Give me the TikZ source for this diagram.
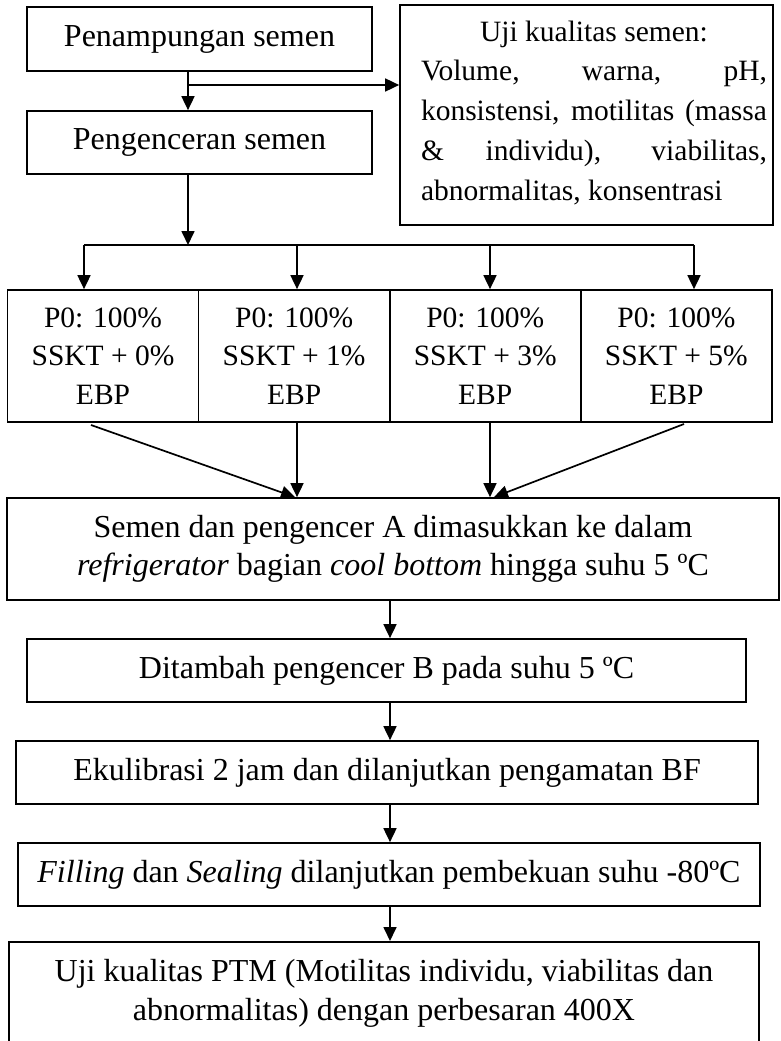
\documentclass[tikz,border=0pt]{standalone}
\usepackage{fontspec}
\setmainfont{Liberation Serif}
\usetikzlibrary{arrows.meta}
\begin{document}
\begin{tikzpicture}[x=1pt,y=-1pt,
  box/.style={draw, line width=1.7pt, inner sep=0pt, align=center, font=\fontsize{32}{38.5}\selectfont},
  pbox/.style={box, minimum width=191.1pt, minimum height=132pt, font=\fontsize{29.5}{38.5}\selectfont},
  arr/.style={line width=1.7pt, -{Triangle[length=14pt,width=13pt]}},
  ln/.style={line width=1.7pt}]
\useasboundingbox (0,0) rectangle (780,1041);
\clip (0,0) rectangle (780,1041);
% top boxes
\node[box, minimum width=345pt, minimum height=64pt] (A) at (199.5,39) {Penampungan semen};
\node[box, minimum width=345pt, minimum height=63pt] (B) at (199.5,142.5) {Pengenceran semen};
\node[box, minimum width=373pt, minimum height=220pt] (C) at (586.5,115) {};
\node[inner sep=0pt, align=center, font=\fontsize{29.5}{39.7}\selectfont] (Ct) at (594,112.7) {%
\hbox to 346pt{\hfil Uji kualitas semen:\hfil}\\
\hbox to 346pt{Volume, warna, pH,}\\
\hbox to 346pt{konsistensi, motilitas (massa}\\
\hbox to 346pt{\& individu), viabilitas,}\\
\hbox to 346pt{abnormalitas, konsentrasi\hfil}};
% treatment boxes
\node[pbox] (P1) at (103.05,356) {P0: 100\%\\SSKT + 0\%\\EBP};
\node[pbox] (P2) at (294.15,356) {P0: 100\%\\SSKT + 1\%\\EBP};
\node[pbox] (P3) at (485.25,356) {P0: 100\%\\SSKT + 3\%\\EBP};
\node[pbox] (P4) at (676.35,356) {P0: 100\%\\SSKT + 5\%\\EBP};
% lower boxes
\node[box, minimum width=772pt, minimum height=102pt] (D) at (393,549) {Semen dan pengencer A dimasukkan ke dalam\\\textit{refrigerator} bagian \textit{cool bottom} hingga suhu 5 ºC};
\node[box, minimum width=719pt, minimum height=63pt] (E) at (386.5,670.5) {Ditambah pengencer B pada suhu 5 ºC};
\node[box, minimum width=742pt, minimum height=63pt] (F) at (387,772.5) {Ekulibrasi 2 jam dan dilanjutkan pengamatan BF};
\node[box, minimum width=742pt, minimum height=63pt] (G) at (389,874.5) {\textit{Filling} dan \textit{Sealing} dilanjutkan pembekuan suhu -80ºC};
\node[box, minimum width=750pt, minimum height=103pt, anchor=north] (H) at (384,941) {Uji kualitas PTM (Motilitas individu, viabilitas dan\\abnormalitas) dengan perbesaran 400X};
% top connectors
\coordinate (jt) at (188,85);
\draw[arr] (A.south -| jt) -- (B.north -| jt);
\draw[arr] (jt) -- (jt -| C.west);
\coordinate (jb) at (188,245);
\draw[arr] (B.south -| jb) -- (jb);
\coordinate (b1) at (84,245);
\coordinate (b2) at (297,245);
\coordinate (b3) at (490,245);
\coordinate (b4) at (694,245);
\draw[ln] (b1) -- (b4);
\draw[arr] (b1) -- (b1 |- P1.north);
\draw[arr] (b2) -- (b2 |- P2.north);
\draw[arr] (b3) -- (b3 |- P3.north);
\draw[arr] (b4) -- (b4 |- P4.north);
% converging connectors
\coordinate (s1) at (91,425);
\coordinate (t1) at (295,0);
\coordinate (v2) at (297,0);
\coordinate (v3) at (490,0);
\coordinate (s4) at (684,424);
\coordinate (t4) at (494,0);
\draw[arr] (s1) -- (t1 |- D.north);
\draw[arr] (P2.south -| v2) -- (D.north -| v2);
\draw[arr] (P3.south -| v3) -- (D.north -| v3);
\draw[arr] (s4) -- (t4 |- D.north);
% central chain
\coordinate (m) at (390,0);
\draw[arr] (D.south -| m) -- (E.north -| m);
\draw[arr] (E.south -| m) -- (F.north -| m);
\draw[arr] (F.south -| m) -- (G.north -| m);
\draw[arr] (G.south -| m) -- (H.north -| m);
\end{tikzpicture}
\end{document}
